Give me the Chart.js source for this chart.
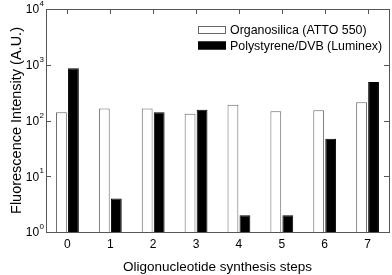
<!DOCTYPE html>
<html>
<head>
<meta charset="utf-8">
<script src="https://cdn.jsdelivr.net/npm/chart.js@4"></script>
<style>
  html, body { margin: 0; padding: 0; background: #fff; }
</style>
</head>
<body>
<canvas id="myChart" width="392" height="275"></canvas>
<script>
const steps = ['0', '1', '2', '3', '4', '5', '6', '7'];
const organosilica = [140, 165, 165, 132, 192, 146, 152, 212];
const polystyrene = [864, 4, 140, 156, 2, 2, 47, 490];
const yDecades = [1, 10, 100, 1000, 10000];
const seriesNames = ['Organosilica (ATTO 550)', 'Polystyrene/DVB (Luminex)'];

const FONT = '"Liberation Sans", Arial, sans-serif';

// frame, inward ticks, y labels with superscripts and the legend
const decorations = {
    id: 'decorations',
    afterDraw(chart) {
        const ctx = chart.ctx;
        const area = chart.chartArea;
        const x = chart.scales.x;
        const y = chart.scales.y;
        ctx.save();
        ctx.strokeStyle = '#555';
        ctx.lineWidth = 1;
        ctx.strokeRect(Math.round(area.left) + 0.5, Math.round(area.top) + 0.5,
            Math.round(area.right - area.left), Math.round(area.bottom - area.top));

        ctx.beginPath();
        yDecades.forEach(v => {
            const py = Math.round(y.getPixelForValue(v)) + 0.5;
            ctx.moveTo(area.left, py); ctx.lineTo(area.left + 5, py);
            ctx.moveTo(area.right, py); ctx.lineTo(area.right - 5, py);
        });
        steps.forEach((s, i) => {
            const px = Math.round(x.getPixelForTick(i)) + 0.5;
            ctx.moveTo(px, area.top); ctx.lineTo(px, area.top + 5);
        });
        ctx.stroke();

        ctx.fillStyle = '#000';
        ctx.textBaseline = 'middle';
        yDecades.forEach(v => {
            const py = y.getPixelForValue(v);
            const exp = String(Math.round(Math.log10(v)));
            ctx.font = '8px ' + FONT;
            const ew = ctx.measureText(exp).width;
            const ex = area.left - 2 - ew;
            ctx.textAlign = 'left';
            ctx.fillText(exp, ex, py - 5);
            ctx.font = '12px ' + FONT;
            ctx.textAlign = 'right';
            ctx.fillText('10', ex - 0.5, py + 1);
        });

        // legend
        const lx = 198, ly = 30;
        ctx.font = '12.4px ' + FONT;
        ctx.textAlign = 'left';
        chart.data.datasets.forEach((ds, i) => {
            const by = ly + i * 15.5;
            ctx.fillStyle = ds.backgroundColor;
            ctx.fillRect(lx, by - 4, 28, 8);
            ctx.strokeStyle = ds.borderColor;
            ctx.strokeRect(lx + 0.5, by - 3.5, 27, 7);
            ctx.fillStyle = '#000';
            ctx.fillText(seriesNames[i], lx + 32, by + 1);
        });
        ctx.restore();
    }
};

function makeChart() {
    const ctx = document.getElementById('myChart');
    new Chart(ctx, {
        type: 'bar',
        data: {
            labels: steps,
            datasets: [{
                label: seriesNames[0],
                data: organosilica,
                backgroundColor: '#fff',
                borderColor: '#666',
                borderWidth: 1,
                categoryPercentage: 0.56,
                barPercentage: 0.9
            }, {
                label: seriesNames[1],
                data: polystyrene,
                backgroundColor: '#000',
                borderColor: '#000',
                borderWidth: 1,
                categoryPercentage: 0.56,
                barPercentage: 0.9
            }]
        },
        options: {
            responsive: false,
            animation: false,
            devicePixelRatio: 1,
            layout: { padding: { top: 9, right: 3, left: 0, bottom: 0 } },
            plugins: {
                legend: { display: false },
                tooltip: { enabled: false }
            },
            scales: {
                x: {
                    grid: { display: false },
                    border: { display: false },
                    ticks: { color: '#000', font: { family: FONT, size: 12 }, padding: -3 },
                    title: {
                        display: true,
                        text: 'Oligonucleotide synthesis steps',
                        color: '#000',
                        font: { family: FONT, size: 13.5 },
                        padding: { top: 4, bottom: 0 }
                    },
                    afterFit: scale => { scale.height = 43; }
                },
                y: {
                    type: 'logarithmic',
                    min: 1,
                    max: 10000,
                    grid: { display: false },
                    border: { display: false },
                    ticks: { display: false },
                    title: {
                        display: true,
                        text: 'Fluorescence Intensity (A.U.)',
                        color: '#000',
                        font: { family: FONT, size: 14.5 },
                        padding: { top: 8, bottom: 2 }
                    },
                    afterFit: scale => { scale.width = 46; }
                }
            }
        },
        plugins: [decorations]
    });
}

makeChart();
</script>
</body>
</html>
